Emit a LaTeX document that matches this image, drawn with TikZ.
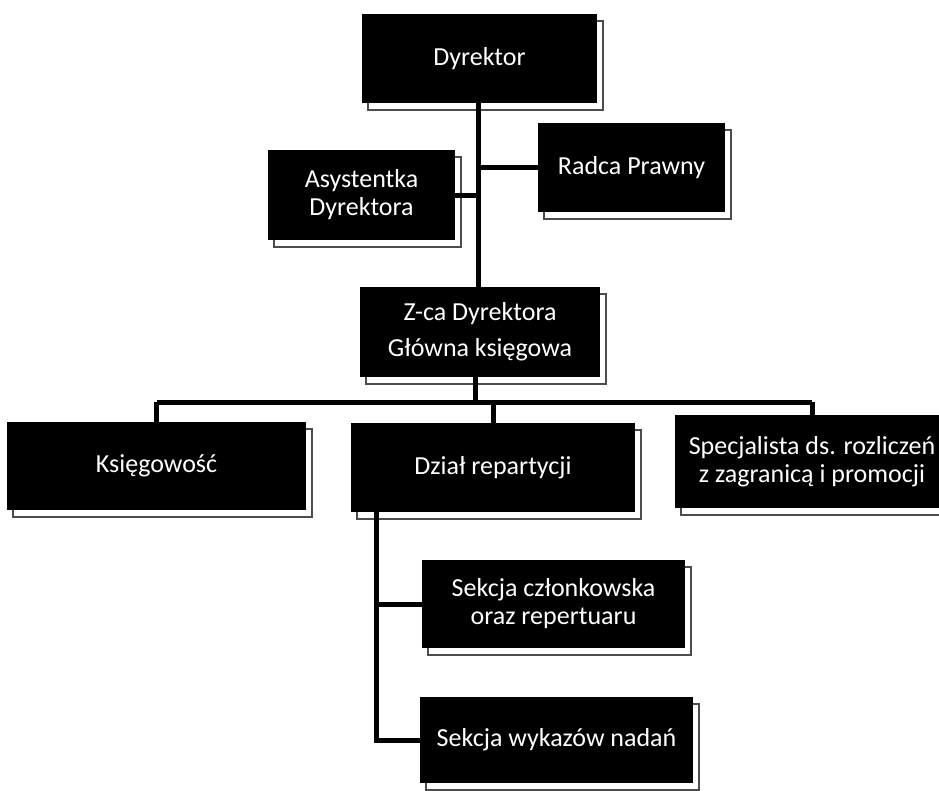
\documentclass[tikz,border=0pt]{standalone}
\usepackage{fontspec}
\setmainfont{Carlito}
\usetikzlibrary{shadows}
\begin{document}
\begin{tikzpicture}[x=1pt,y=-1pt,
  orgbox/.style={fill=black, text=white, inner sep=0pt, align=center,
    font=\fontsize{26}{28}\selectfont,
    copy shadow={shadow xshift=6pt, shadow yshift=-7pt, fill=white, draw=black!70, line width=1.1pt}},
  conn/.style={line width=5pt, draw=black}]
\fill[white] (0,0) rectangle (939,790);
\useasboundingbox (0,0) rectangle (939,790);
\node[orgbox, minimum width=235pt, minimum height=89pt] (dyr) at (479.5,58.5) {Dyrektor};
\node[orgbox, minimum width=187pt, minimum height=90pt] (asy) at (361.5,195) {Asystentka\\Dyrektora};
\node[orgbox, minimum width=187pt, minimum height=89pt] (rad) at (631.5,167.5) {Radca Prawny};
\node[orgbox, minimum width=240pt, minimum height=90pt, font=\fontsize{26}{36}\selectfont] (zca) at (480,332) {Z-ca Dyrektora\\Główna księgowa};
\node[orgbox, minimum width=299pt, minimum height=88pt] (ksi) at (156.5,466) {Księgowość};
\node[orgbox, minimum width=284pt, minimum height=89pt] (dzi) at (493,467.5) {Dział repartycji};
\node[orgbox, minimum width=274pt, minimum height=93pt] (spe) at (812,461.5) {Specjalista ds. rozliczeń\\z zagranicą i promocji};
\node[orgbox, minimum width=263pt, minimum height=88pt] (sc1) at (553.5,604) {Sekcja członkowska\\oraz repertuaru};
\node[orgbox, minimum width=273pt, minimum height=86pt] (sc2) at (556.5,740) {Sekcja wykazów nadań};
% trunk
\coordinate (tr) at ([xshift=-1.5pt]dyr.south);
\draw[conn] (tr) -- (tr |- zca.north);
\draw[conn] (tr |- rad.west) -- (rad.west);
\draw[conn] (tr |- asy.east) -- (asy.east);
% bus
\coordinate (bus) at (475,402);
\draw[conn] ([xshift=-5pt]zca.south) -- (bus);
\draw[conn] (ksi.north |- bus) -- (spe.north |- bus);
\draw[conn] (ksi.north |- bus) -- (ksi.north);
\draw[conn] (dzi.north |- bus) -- (dzi.north);
\draw[conn] (spe.north |- bus) -- (spe.north);
% sub-branch
\coordinate (dv) at ([xshift=26pt]dzi.south west);
\draw[conn] (dv) |- (sc2.west);
\draw[conn] (dv |- sc1.west) -- (sc1.west);
\end{tikzpicture}
\end{document}
